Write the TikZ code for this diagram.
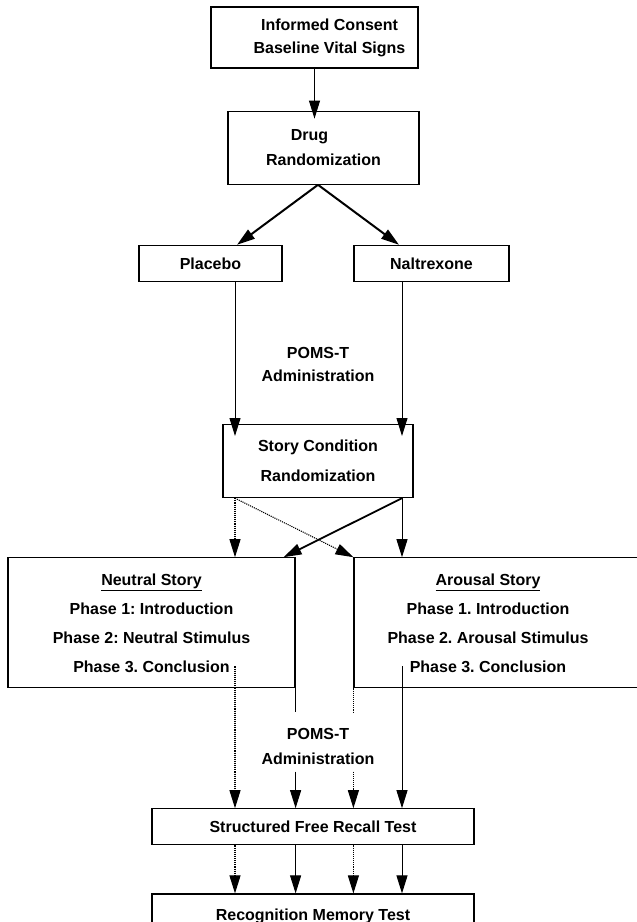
\documentclass[tikz,border=0pt]{standalone}
\usepackage{fontspec}
\setmainfont{Liberation Sans}
\frenchspacing
\usetikzlibrary{positioning, arrows.meta, calc}

\begin{document}
\begin{tikzpicture}[x=1pt, y=1pt, node distance=40pt, >={Triangle[length=18pt,width=11pt]}]
    % Styles
    \tikzstyle{block} = [rectangle, draw, line width=1.2pt, align=center, inner sep=0pt,
    font=\bfseries\fontsize{16}{23}\selectfont]
    \tikzstyle{note} = [align=center, inner sep=0pt, font=\bfseries\fontsize{16}{23}\selectfont]
    \tikzstyle{flow} = [->, line width=1pt]
    \tikzstyle{dotflow} = [->, line width=1.1pt, densely dotted]

    \useasboundingbox (0,0) rectangle (637,-922);
    \clip (0,0) rectangle (637,-922);

    % Nodes
    \node [block, minimum width=207pt, minimum height=61pt] (consent) at (314.5,-37.5) {};
    \node [note] (consenttext) at ([xshift=15pt]consent.center) {Informed Consent\\Baseline Vital Signs};
    \node [block, minimum width=191pt, minimum height=73pt, font=\bfseries\fontsize{16}{25}\selectfont,
    below=42pt of consent, xshift=9pt] (drug) {Drug\hspace*{28pt}\\Randomization};
    \node [block, minimum width=143pt, minimum height=36pt, below=60pt of drug, xshift=-113pt] (placebo) {Placebo};
    \node [block, minimum width=155pt, minimum height=36pt, below=60pt of drug, xshift=108pt] (naltrexone) {Naltrexone};
    \node [note] (poms1) at ($(placebo.south)!0.5!(naltrexone.south)+(-3,-82.5)$) {POMS-T\\Administration};
    \node [block, minimum width=190pt, minimum height=73pt, font=\bfseries\fontsize{16}{30}\selectfont,
    below=142pt of placebo, xshift=107.5pt] (story) {Story Condition\\Randomization};
    \node [block, minimum width=287pt, minimum height=130pt, font=\bfseries\fontsize{16}{29}\selectfont,
    below=59pt of story, xshift=-166.5pt] (neutral) {\underline{Neutral Story}\\Phase 1: Introduction\\Phase 2: Neutral Stimulus\\Phase 3. Conclusion};
    \node [block, minimum width=296pt, minimum height=130pt, below=59pt of story, xshift=184pt] (arousal) {};
    \node [note, font=\bfseries\fontsize{16}{29}\selectfont] (arousaltext) at ([xshift=-14pt]arousal.center)
    {\underline{Arousal Story}\\Phase 1. Introduction\\Phase 2. Arousal Stimulus\\Phase 3. Conclusion};
    \node [note, minimum height=59pt, font=\bfseries\fontsize{16}{25}\selectfont, below=219pt of story] (poms2) {POMS-T\\Administration};
    \node [block, minimum width=322pt, minimum height=36pt, below=310pt of story, xshift=-5pt] (recall) {Structured Free Recall Test};
    \node [block, minimum width=322pt, minimum height=44pt, below=48pt of recall] (recog) {Recognition Memory Test};

    % Lanes
    \coordinate (fork) at ([xshift=-5.5pt]drug.south);
    \coordinate (pl) at ([xshift=24.5pt]placebo.south);
    \coordinate (nl) at ([xshift=-29.5pt]naltrexone.south);
    \coordinate (sl) at ([xshift=-83pt]story.south);
    \coordinate (sr) at ([xshift=84pt]story.south);
    \coordinate (na) at ([yshift=22pt]sl |- neutral.south);
    \coordinate (ar) at ([yshift=22pt]sr |- arousal.south);
    \coordinate (gaptop) at ([yshift=5pt]poms2.north);
    \coordinate (gapbot) at ([yshift=5pt]poms2.south);

    % Arrows
    \draw [flow, shorten >=-8pt] (consent.south) -- (consent.south |- drug.north);
    \draw [flow, line width=2pt] (fork) -- ([xshift=26.5pt]placebo.north);
    \draw [flow, line width=2pt] (fork) -- ([xshift=-32.5pt]naltrexone.north);
    \draw [flow, shorten >=-12pt] (pl) -- (pl |- story.north);
    \draw [flow, shorten >=-12pt] (nl) -- (nl |- story.north);

    \draw [dotflow] (sl) -- (sl |- neutral.north);
    \draw [dotflow] (sl) -- (arousal.north west);
    \draw [flow, line width=1.8pt] (sr) -- ([xshift=-12pt]neutral.north east);
    \draw [flow] (sr) -- (sr |- arousal.north);

    \draw [dotflow] (na) -- (na |- recall.north);
    \draw [line width=1pt] (neutral.south east) -- (neutral.south east |- gaptop);
    \draw [flow] (neutral.south east |- gapbot) -- (neutral.south east |- recall.north);
    \draw [line width=1.1pt, densely dotted] (arousal.south west) -- (arousal.south west |- gaptop);
    \draw [dotflow] (arousal.south west |- gapbot) -- (arousal.south west |- recall.north);
    \draw [flow] (ar) -- (ar |- recall.north);

    \foreach \lane/\kind in {na/dotflow, neutral.south east/flow, arousal.south west/dotflow, ar/flow}
        \draw [\kind] (\lane |- recall.south) -- (\lane |- recog.north);
\end{tikzpicture}
\end{document}
